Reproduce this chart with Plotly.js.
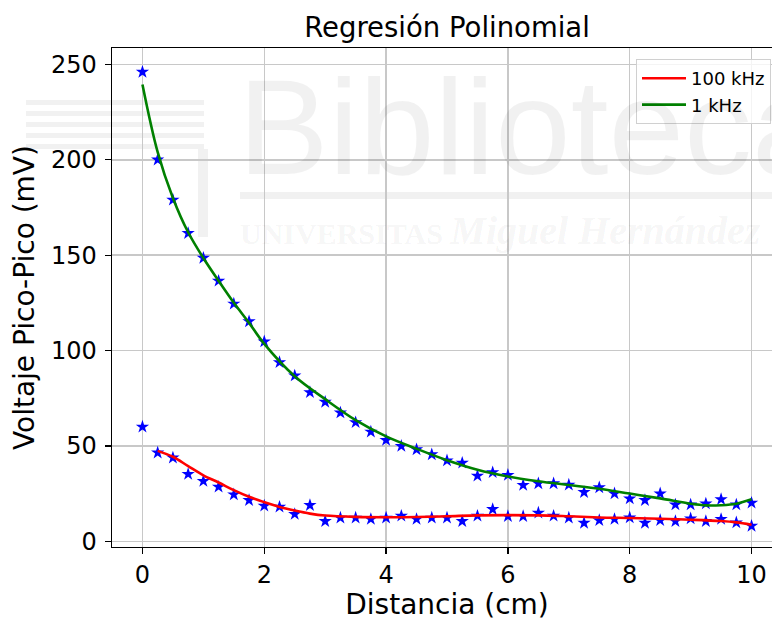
<!DOCTYPE html>
<html>
<head>
<meta charset="utf-8">
<script src="https://cdn.plot.ly/plotly-3.0.1.min.js"></script>
<style>
  html, body { margin: 0; padding: 0; overflow: hidden; background: #ffffff; }
  #chart { width: 782px; height: 621px; }
</style>
</head>
<body>
<div id="chart"></div>
<script>
// ---- data ----
const distancia = [0,0.25,0.5,0.75,1,1.25,1.5,1.75,2,2.25,2.5,2.75,3,3.25,3.5,3.75,4,4.25,4.5,4.75,5,5.25,5.5,5.75,6,6.25,6.5,6.75,7,7.25,7.5,7.75,8,8.25,8.5,8.75,9,9.25,9.5,9.75,10];
const medida1k = [246,200,179,161.5,148.5,136.5,124.5,115.2,104.7,93.8,86.8,78.1,73,67.4,62.3,57.4,53,49.9,48.1,45.5,42.3,41.1,34.3,36.1,34.7,29.4,30.3,30.3,29.6,25.7,28.2,25,22.4,21.5,25,19.2,19.2,19.7,22,19.2,20.1];
const medida100k = [60,46.4,43.8,35.2,31.5,28.5,24.5,21.5,18.6,18,14.2,18.9,10.5,12.3,12.3,11.6,12.3,13.3,11.6,12.3,12.3,10.5,13.3,16.8,13.1,13.1,14.9,13.3,12.3,9.6,11,11.6,12.4,9.6,11,10.5,11.9,10.5,11.6,9.8,8];

const ajusteX1k = [0,0.25,0.5,0.75,1,1.25,1.5,1.75,2,2.5,3,3.5,4,4.5,5,5.5,6,6.5,7,7.5,8,8.5,9,9.25,9.5,9.75,10];
const ajuste1k = [239.5,204,180,162,148.5,136.5,125,114.5,103.5,86.5,74.5,63.5,55,48.5,42.5,37.5,34,31.5,29.5,27.5,25,22.5,19.7,18.8,18.9,19.7,22];
const ajusteX100k = [0.25,0.5,0.75,1,1.25,1.5,1.75,2,2.25,2.5,2.75,3,3.5,4,4.5,5,5.5,6,6.5,7,7.5,8,8.5,9,9.5,9.75,10];
const ajuste100k = [47.4,44.3,39.4,34.6,30.8,26.8,23.3,20.5,18.0,16.1,14.5,13.5,12.8,12.6,12.7,13.1,13.6,13.7,13.6,13.1,12.5,12.2,11.8,11.3,10.6,9.9,8.7];

const nombres = ["100 kHz", "1 kHz"];
const titulo = "Regresión Polinomial";
const tituloX = "Distancia (cm)";
const tituloY = "Voltaje Pico-Pico (mV)";
const ticksX = [0,2,4,6,8,10];
const ticksY = [0,50,100,150,200,250];

// ---- layout geometry (pixels) ----
const W = 782, H = 621;
const M = {l: 112, r: 0, t: 48, b: 74};
const PW = W - M.l - M.r, PH = H - M.t - M.b;
const px = v => (v - M.l) / PW;          // pixel x -> paper
const py = v => (H - M.b - v) / PH;      // pixel y -> paper

const FONT = "DejaVu Sans";
const star = {symbol: "star", size: 10, color: "#0000ff", line: {width: 0}};

const traces = [
  {x: distancia, y: medida1k, mode: "markers", marker: star, showlegend: false, type: "scatter"},
  {x: distancia, y: medida100k, mode: "markers", marker: star, showlegend: false, type: "scatter"},
  {x: ajusteX100k, y: ajuste100k, mode: "lines", name: nombres[0],
   line: {color: "#ff0000", width: 2.6, shape: "spline", smoothing: 1}, type: "scatter"},
  {x: ajusteX1k, y: ajuste1k, mode: "lines", name: nombres[1],
   line: {color: "#008000", width: 2.6, shape: "spline", smoothing: 1}, type: "scatter"}
];

const wm = "rgba(0,0,0,0.055)";
const shapes = [];
// faint logo stripes of the watermark
[100, 111, 122, 133, 144].forEach(y => {
  shapes.push({type: "rect", xref: "paper", yref: "paper", x0: px(26), x1: px(204), y0: py(y + 5), y1: py(y),
               line: {width: 0}, fillcolor: wm, layer: "below"});
});
shapes.push({type: "rect", xref: "paper", yref: "paper", x0: px(198), x1: px(208), y0: py(237), y1: py(149),
             line: {width: 0}, fillcolor: wm, layer: "below"});
shapes.push({type: "rect", xref: "paper", yref: "paper", x0: px(240), x1: px(782), y0: py(199), y1: py(192),
             line: {width: 0}, fillcolor: wm, layer: "below"});

const annotations = [
  {text: "Biblioteca", xref: "paper", yref: "paper", x: px(236), y: py(177), xanchor: "left", yanchor: "bottom",
   showarrow: false, font: {family: "Liberation Sans", size: 136, color: wm}, yshift: -28},
  {text: "UNIVERSITAS <span style=\"font-size:40px\"><i>Miguel Hernández</i></span>", xref: "paper", yref: "paper",
   x: px(238), y: py(230), xanchor: "left", yanchor: "middle", showarrow: false,
   font: {family: "Liberation Serif", size: 30, color: wm, weight: "bold"}}
];

const gridC = "#c8c8c8";
const layout = {
  width: W, height: H,
  margin: M,
  paper_bgcolor: "#ffffff", plot_bgcolor: "#ffffff",
  font: {family: FONT, color: "#000000"},
  title: {text: titulo, x: 0.5, xref: "paper", y: 1 - 27 / H, yref: "container",
          xanchor: "center", yanchor: "middle", font: {family: FONT, size: 27.5, color: "#000000"}},
  xaxis: {
    range: [-0.5, 10.5], tickvals: ticksX, ticktext: ticksX.map(String),
    showgrid: true, gridcolor: gridC, gridwidth: 1.5, zeroline: false,
    showline: true, linecolor: "#000000", linewidth: 1.4, mirror: true,
    ticks: "outside", ticklen: 6, tickwidth: 1.3, tickcolor: "#000000",
    tickfont: {family: FONT, size: 24, color: "#000000"},
    title: {text: tituloX, font: {family: FONT, size: 28, color: "#000000"}, standoff: 6},
    automargin: false
  },
  yaxis: {
    range: [-3.0, 258.6], tickvals: ticksY, ticktext: ticksY.map(String),
    showgrid: true, gridcolor: gridC, gridwidth: 1.5, zeroline: false,
    showline: true, linecolor: "#000000", linewidth: 1.4, mirror: true,
    ticks: "outside", ticklen: 6, tickwidth: 1.3, tickcolor: "#000000",
    tickfont: {family: FONT, size: 24, color: "#000000"}, ticklabelstandoff: 3,
    title: {text: tituloY, font: {family: FONT, size: 28, color: "#000000"}, standoff: 8},
    automargin: false
  },
  legend: {
    x: px(771), y: py(59), xref: "paper", yref: "paper", xanchor: "right", yanchor: "top",
    bgcolor: "rgba(255,255,255,0.8)", bordercolor: "#d0d0d0", borderwidth: 1,
    font: {family: FONT, size: 18, color: "#000000"}, tracegroupgap: 0, itemwidth: 44
  },
  shapes: shapes,
  annotations: annotations
};

Plotly.newPlot("chart", traces, layout, {staticPlot: true, displayModeBar: false});
</script>
</body>
</html>
